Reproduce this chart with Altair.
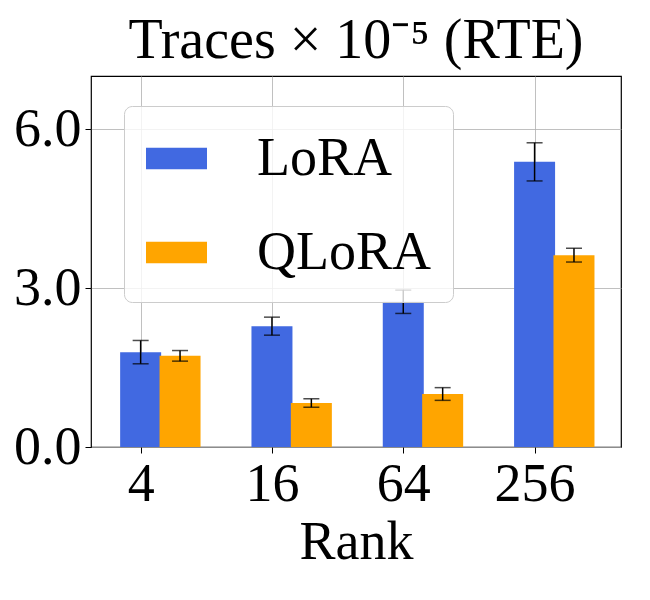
import altair as alt
import pandas as pd

ranks = ["4", "16", "64", "256"]
methods = ["LoRA", "QLoRA"]
lora_mean = [1.79, 2.28, 2.74, 5.38]
lora_err = [0.22, 0.17, 0.22, 0.36]
qlora_mean = [1.72, 0.83, 1.00, 3.62]
qlora_err = [0.10, 0.08, 0.12, 0.13]

rows = []
for i, r in enumerate(ranks):
    rows.append(dict(pos=i, rank=r, method="LoRA", mean=lora_mean[i], err=lora_err[i]))
    rows.append(dict(pos=i + 0.3, rank=r, method="QLoRA", mean=qlora_mean[i], err=qlora_err[i]))
df = pd.DataFrame(rows)
df["lo"] = df["mean"] - df["err"]
df["hi"] = df["mean"] + df["err"]

FONT = "Liberation Serif"

xscale = alt.Scale(domain=[-0.34, 3.62], nice=False, zero=False)
x = alt.X("pos:Q", scale=xscale, title="Rank",
          axis=alt.Axis(values=[0, 1, 2, 3],
                        labelExpr="['4','16','64','256'][datum.value]"))
yscale = alt.Scale(domain=[0, 7], nice=False)

base = alt.Chart(df)

bars = base.mark_bar(size=41).encode(
    x=x,
    y=alt.Y("mean:Q", scale=yscale, title=None,
            axis=alt.Axis(values=[0, 3, 6], format=".1f")),
    color=alt.Color("method:N", scale=alt.Scale(domain=methods, range=["#4169E1", "#FFA500"]),
                    legend=alt.Legend(title=None, orient="none", legendX=33, legendY=30,
                                      symbolType="M-1,-0.35H1V0.35H-1Z", symbolSize=3721,
                                      symbolStrokeWidth=0, symbolOpacity=1,
                                      labelFontSize=54, labelFont=FONT, labelOffset=50,
                                      labelLimit=400, rowPadding=36, padding=22,
                                      fillColor="rgba(255,255,255,0.8)",
                                      strokeColor="#cccccc", cornerRadius=8)),
)

rule = base.mark_rule(color="black", strokeWidth=1.5).encode(x="pos:Q", y="lo:Q", y2="hi:Q")
top = base.mark_tick(color="black", orient="horizontal", size=16, thickness=1.5).encode(x="pos:Q", y="hi:Q")
bot = base.mark_tick(color="black", orient="horizontal", size=16, thickness=1.5).encode(x="pos:Q", y="lo:Q")

chart = alt.layer(bars, rule, top, bot).properties(
    width=530, height=371,
    title=alt.TitleParams("Traces × 10⁻⁵ (RTE)", font=FONT, fontSize=56, fontWeight="normal", offset=6),
).configure_axis(
    labelFont=FONT, titleFont=FONT, labelFontSize=54, titleFontSize=54,
    titleFontWeight="normal", labelColor="black", titleColor="black",
    grid=True, gridColor="#b0b0b0", gridWidth=0.8,
    domain=False, tickColor="black", tickSize=6, labelPadding=4,
).configure_view(stroke="black", strokeWidth=1.2)

chart.save("out.html", embed_options={"renderer": "svg", "actions": False})
